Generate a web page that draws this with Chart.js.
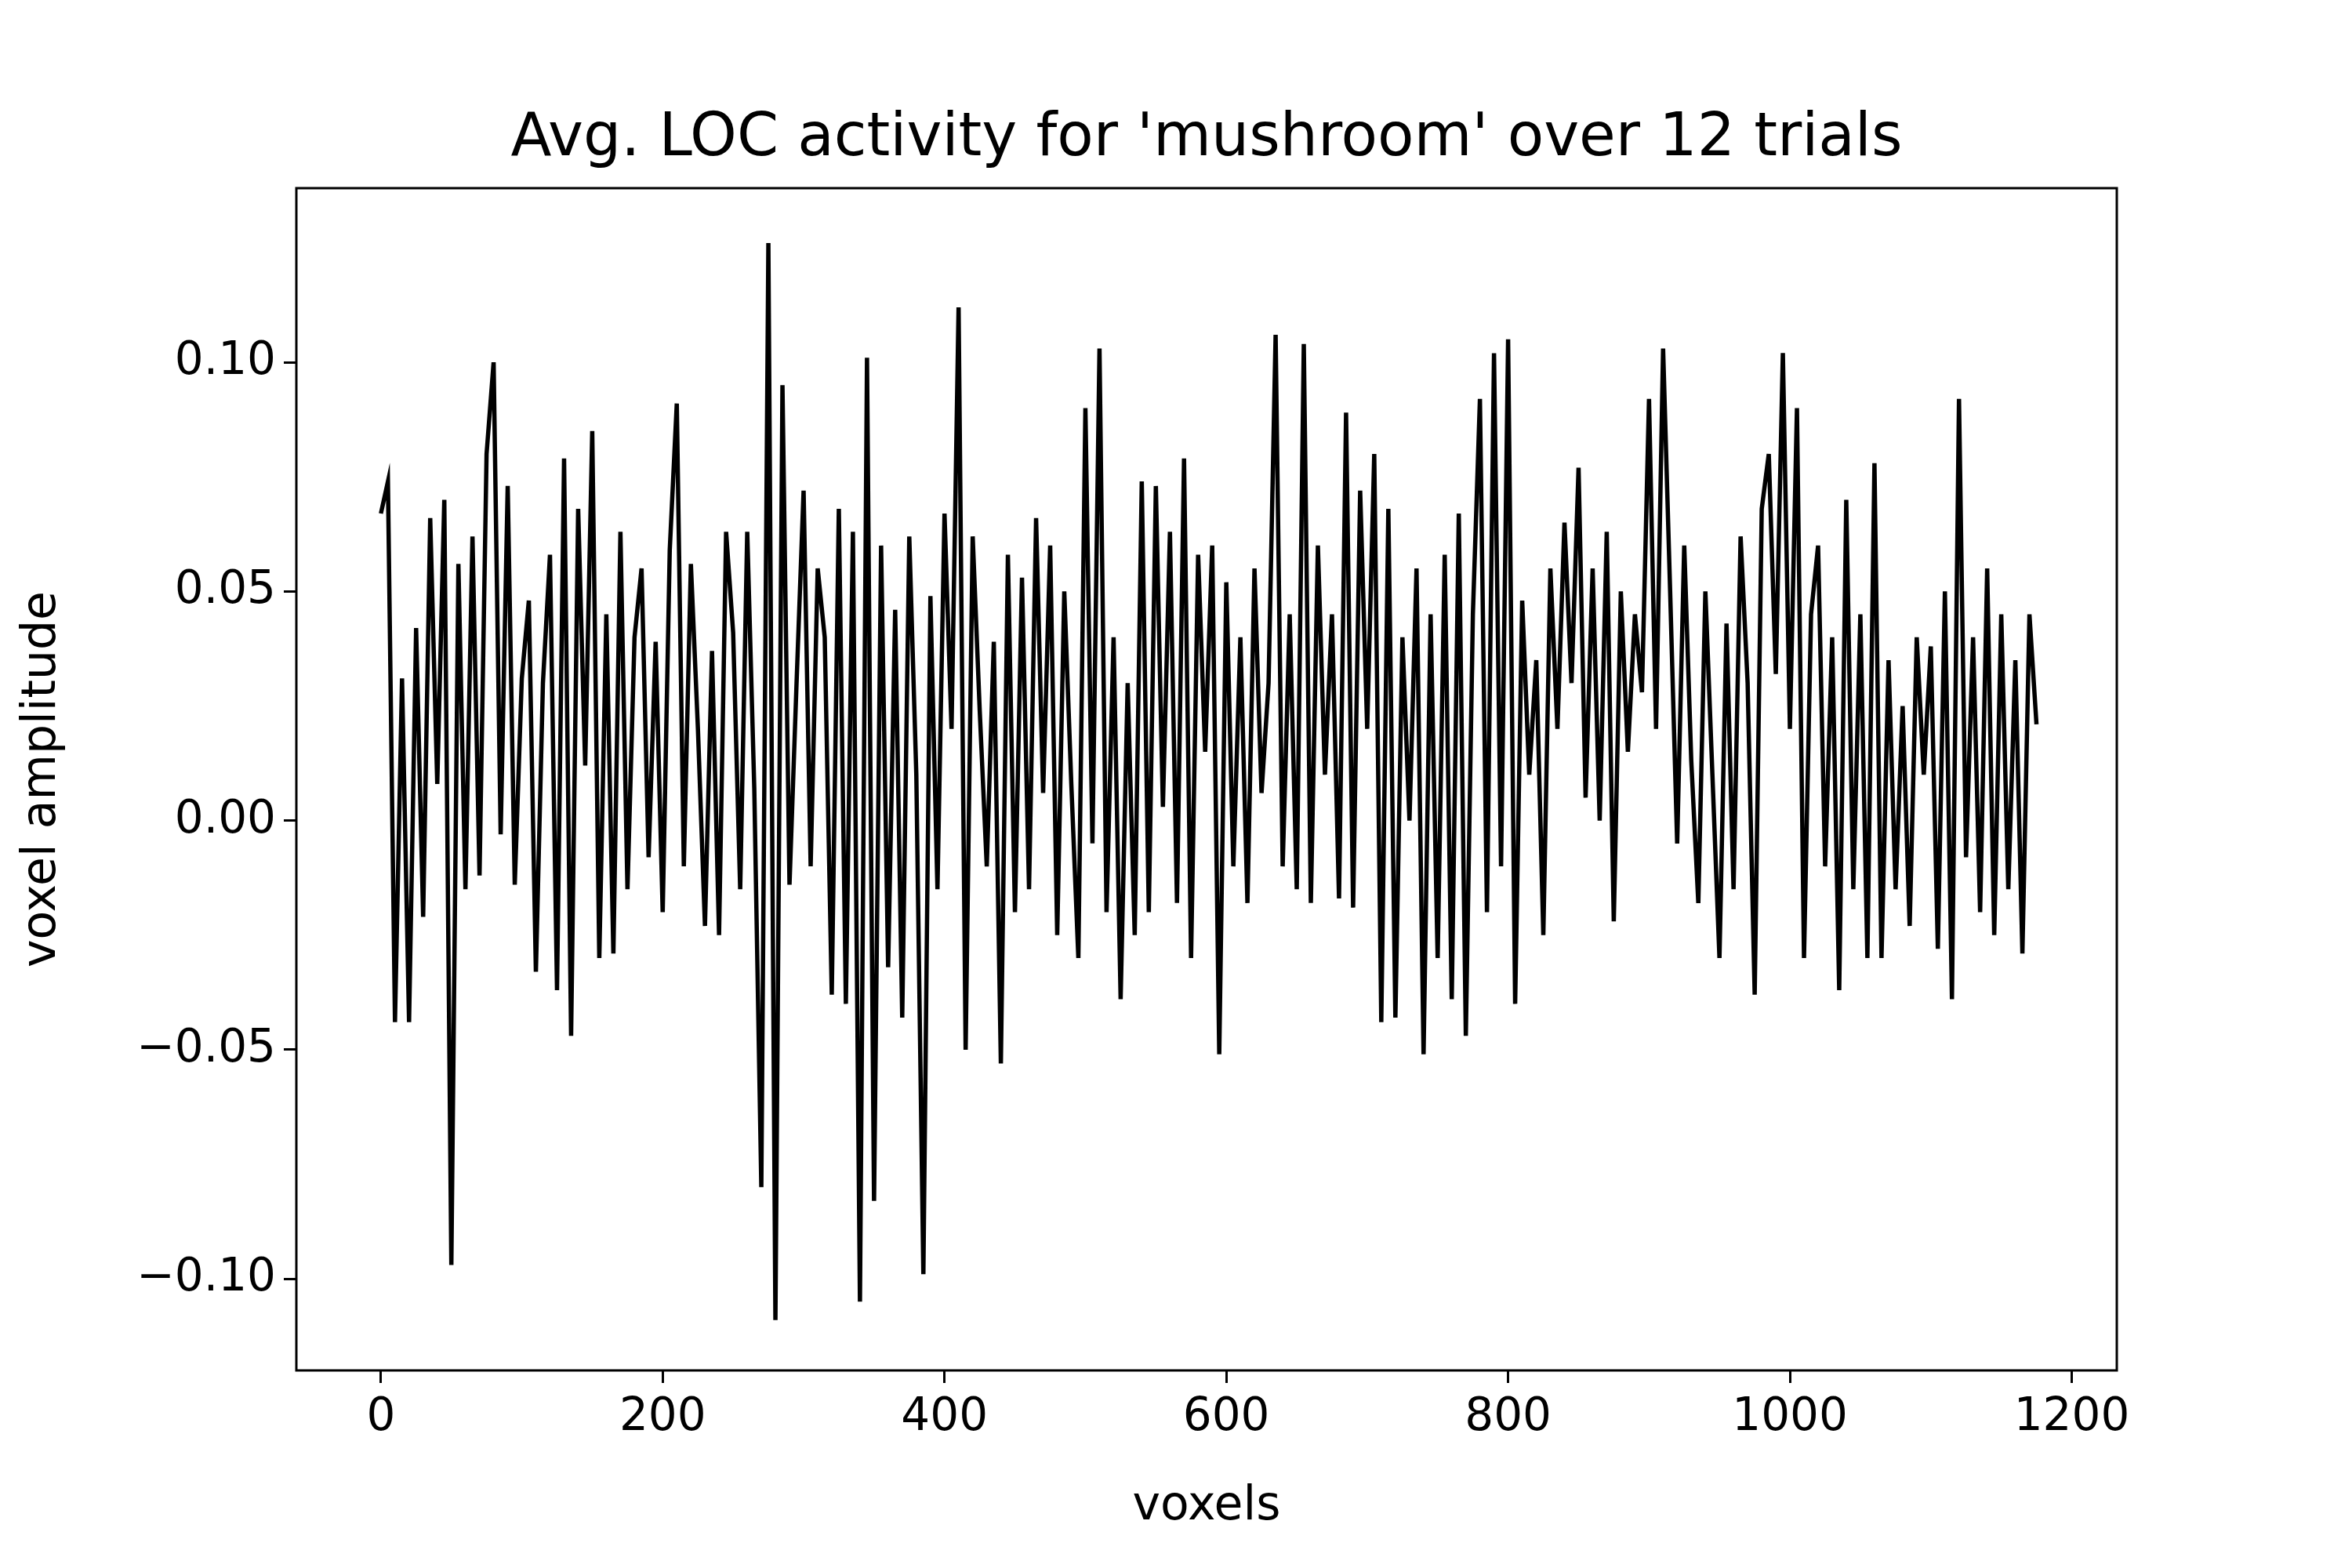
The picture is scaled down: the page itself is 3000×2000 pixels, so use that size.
<!DOCTYPE html>
<html>
<head>
<meta charset="utf-8">
<script src="https://cdn.jsdelivr.net/npm/chart.js@4"></script>
<style>
  html, body { margin: 0; padding: 0; background: #fff; }
  #wrap { width: 3000px; height: 2000px; }
</style>
</head>
<body>
<div id="wrap"><canvas id="chart" width="3000" height="2000"></canvas></div>
<script>
const voxelStep = 5
const amplitude = [
  0.067, 0.074, -0.044, 0.031, -0.044, 0.042, -0.021, 0.066, 0.008, 0.070,
  -0.097, 0.056, -0.015, 0.062, -0.012, 0.080, 0.100, -0.003, 0.073, -0.014,
  0.031, 0.048, -0.033, 0.030, 0.058, -0.037, 0.079, -0.047, 0.068, 0.012,
  0.085, -0.030, 0.045, -0.029, 0.063, -0.015, 0.040, 0.055, -0.008, 0.039,
  -0.020, 0.059, 0.091, -0.010, 0.056, 0.020, -0.023, 0.037, -0.025, 0.063,
  0.041, -0.015, 0.063, 0.007, -0.080, 0.126, -0.109, 0.095, -0.014, 0.030,
  0.072, -0.010, 0.055, 0.040, -0.038, 0.068, -0.040, 0.063, -0.105, 0.101,
  -0.083, 0.060, -0.032, 0.046, -0.043, 0.062, 0.010, -0.099, 0.049, -0.015,
  0.067, 0.020, 0.112, -0.050, 0.062, 0.024, -0.010, 0.039, -0.053, 0.058,
  -0.020, 0.053, -0.015, 0.066, 0.006, 0.060, -0.025, 0.050, 0.008, -0.030,
  0.090, -0.005, 0.103, -0.020, 0.040, -0.039, 0.030, -0.025, 0.074, -0.020,
  0.073, 0.003, 0.063, -0.018, 0.079, -0.030, 0.058, 0.015, 0.060, -0.051,
  0.052, -0.010, 0.040, -0.018, 0.055, 0.006, 0.030, 0.106, -0.010, 0.045,
  -0.015, 0.104, -0.018, 0.060, 0.010, 0.045, -0.017, 0.089, -0.019, 0.072,
  0.020, 0.080, -0.044, 0.068, -0.043, 0.040, 0.000, 0.055, -0.051, 0.045,
  -0.030, 0.058, -0.039, 0.067, -0.047, 0.045, 0.092, -0.020, 0.102, -0.010,
  0.105, -0.040, 0.048, 0.010, 0.035, -0.025, 0.055, 0.020, 0.065, 0.030,
  0.077, 0.005, 0.055, 0.000, 0.063, -0.022, 0.050, 0.015, 0.045, 0.028,
  0.092, 0.020, 0.103, 0.050, -0.005, 0.060, 0.013, -0.018, 0.050, 0.010,
  -0.030, 0.043, -0.015, 0.062, 0.030, -0.038, 0.068, 0.080, 0.032, 0.102,
  0.020, 0.090, -0.030, 0.045, 0.060, -0.010, 0.040, -0.037, 0.070, -0.015,
  0.045, -0.030, 0.078, -0.030, 0.035, -0.015, 0.025, -0.023, 0.040, 0.010,
  0.038, -0.028, 0.050, -0.039, 0.092, -0.008, 0.040, -0.020, 0.055, -0.025,
  0.045, -0.015, 0.035, -0.029, 0.045, 0.021
]
const xTicks = [0, 200, 400, 600, 800, 1000, 1200]
const yTicks = [-0.10, -0.05, 0.00, 0.05, 0.10]
const titleText = "Avg. LOC activity for 'mushroom' over 12 trials"
const xLabel = 'voxels'
const yLabel = 'voxel amplitude'

const FONT = 'DejaVu Sans'
const points = amplitude.map((v, i) => ({ x: i * voxelStep, y: v }))

// frame + title + axis labels, matplotlib style
const decor = {
  id: 'decor',
  afterDraw(chart) {
    const { ctx, chartArea: a } = chart
    ctx.save()
    ctx.strokeStyle = '#000'
    ctx.lineWidth = 3
    ctx.strokeRect(a.left, a.top, a.right - a.left, a.bottom - a.top)
    ctx.fillStyle = '#000'
    ctx.textAlign = 'center'
    ctx.textBaseline = 'alphabetic'
    ctx.font = '76px "' + FONT + '"'
    ctx.fillText(titleText, (a.left + a.right) / 2, 198)
    ctx.font = '60px "' + FONT + '"'
    ctx.fillText(xLabel, (a.left + a.right) / 2, 1938)
    ctx.translate(70, (a.top + a.bottom) / 2)
    ctx.rotate(-Math.PI / 2)
    ctx.fillText(yLabel, 0, 0)
    ctx.restore()
  },
}

new Chart(document.getElementById('chart'), {
  type: 'scatter',
  data: {
    datasets: [{
      data: points,
      showLine: true,
      borderColor: '#000',
      borderWidth: 5.5,
      pointRadius: 0,
      tension: 0,
    }],
  },
  options: {
    responsive: false,
    animation: false,
    devicePixelRatio: 1,
    layout: { padding: { top: 240, right: 300, left: 0, bottom: 0 } },
    plugins: { legend: { display: false }, tooltip: { enabled: false }, title: { display: false } },
    scales: {
      x: {
        type: 'linear',
        min: -60,
        max: 1232,
        afterBuildTicks: (s) => { s.ticks = xTicks.map((v) => ({ value: v })) },
        afterFit: (s) => { s.height = 252 },
        grid: { drawOnChartArea: false, tickLength: 16, tickColor: '#000', tickWidth: 3 },
        border: { display: false },
        ticks: {
          color: '#000',
          font: { family: FONT, size: 58 },
          padding: 10,
          maxRotation: 0,
          callback: (v) => String(v),
        },
      },
      y: {
        min: -0.12,
        max: 0.138,
        afterBuildTicks: (s) => { s.ticks = yTicks.map((v) => ({ value: v })) },
        afterFit: (s) => { s.width = 378 },
        grid: { drawOnChartArea: false, tickLength: 16, tickColor: '#000', tickWidth: 3 },
        border: { display: false },
        ticks: {
          color: '#000',
          font: { family: FONT, size: 58 },
          padding: 10,
          callback: (v) => (v < 0 ? '\u2212' : '') + Math.abs(v).toFixed(2),
        },
      },
    },
  },
  plugins: [decor],
})
</script>
</body>
</html>
